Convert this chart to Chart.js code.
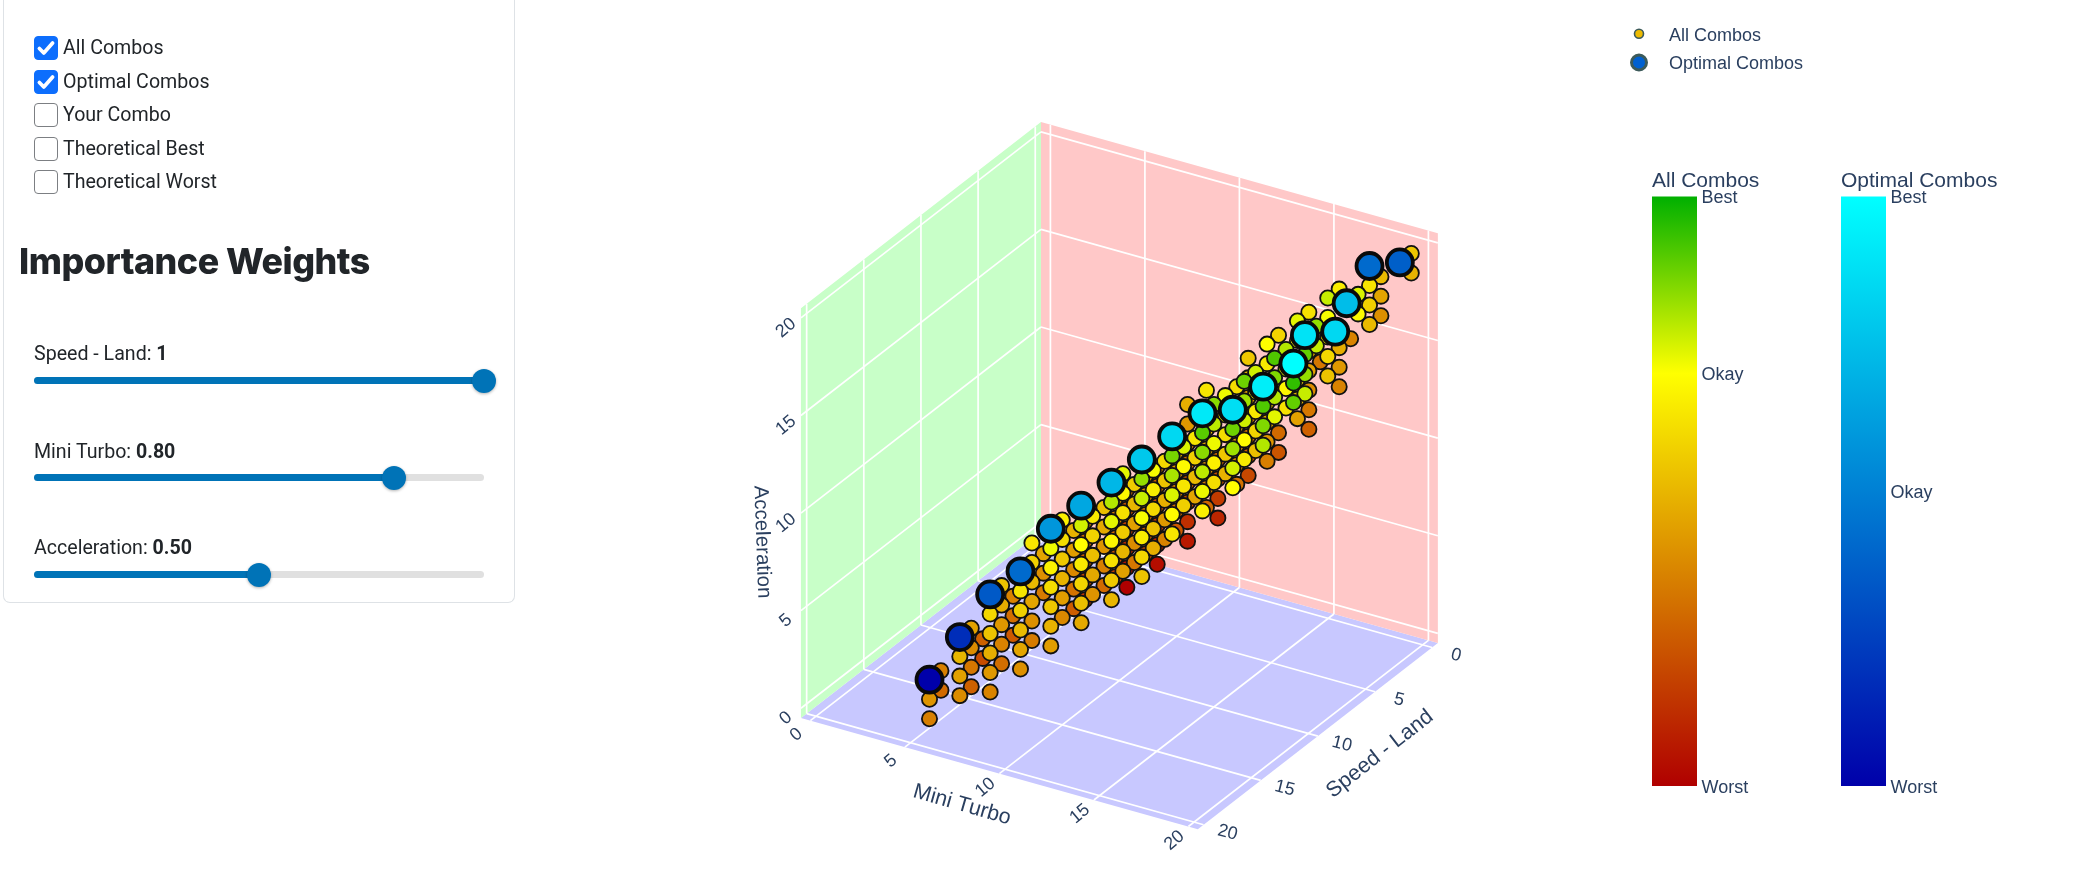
<!DOCTYPE html>
<html>
<head>
<meta charset="utf-8">
<title>Combos</title>
<script src="https://cdn.jsdelivr.net/npm/chart.js@4/dist/chart.umd.min.js"></script>
<style>
  html, body { margin: 0; padding: 0; background: #fff; overflow: hidden; }
  #page { position: relative; width: 2100px; height: 875px; font-family: Roboto, sans-serif; color: #212529; }
  #chart { position: absolute; left: 0; top: 0; }
  .check { position: absolute; left: 34px; font-size: 19.6px; line-height: 24px; display: flex; align-items: center; }
  .check input { appearance: none; width: 24px; height: 24px; margin: 0 5px 0 0; border: 1.5px solid #7c7f83; border-radius: 4px; box-sizing: border-box; background: #fff; }
  .check input:checked { background: #0d6efd url("data:image/svg+xml,%3csvg xmlns='http://www.w3.org/2000/svg' viewBox='0 0 20 20'%3e%3cpath fill='none' stroke='%23fff' stroke-linecap='round' stroke-linejoin='round' stroke-width='3.4' d='m4 10.5 4 4 8-9'/%3e%3c/svg%3e") center/contain no-repeat; border-color: #0d6efd; }
  h2 { position: absolute; left: 19px; top: 239px; margin: 0; font-family: Inter, sans-serif; font-size: 35.8px; line-height: 44px; font-weight: 800; letter-spacing: -0.5px; white-space: nowrap; color: #212529; }
  .weight { position: absolute; left: 34px; font-size: 19.6px; line-height: 24px; white-space: nowrap; }
  .track { position: absolute; left: 34px; width: 450px; height: 7px; border-radius: 4px; background: #e0e0e0; }
  .fill { position: absolute; left: 0; top: 0; height: 7px; border-radius: 4px; background: #0073b7; }
  .thumb { position: absolute; top: -8.5px; width: 24px; height: 24px; margin-left: -12px; border-radius: 50%; background: #0073b7; box-shadow: 0 1px 3px rgba(0,0,0,.3); }
</style>
</head>
<body>
<div id="page">
  <canvas id="chart" width="2100" height="875"></canvas>
  <div style="position:absolute;left:3px;top:0;width:512px;height:603px;border:1px solid #dee2e6;border-top:0;border-radius:0 0 7px 7px;box-sizing:border-box"></div>
  <label class="check" style="top:36px"><input type="checkbox" checked>All Combos</label>
  <label class="check" style="top:70px"><input type="checkbox" checked>Optimal Combos</label>
  <label class="check" style="top:103px"><input type="checkbox">Your Combo</label>
  <label class="check" style="top:137px"><input type="checkbox">Theoretical Best</label>
  <label class="check" style="top:170px"><input type="checkbox">Theoretical Worst</label>
  <h2>Importance Weights</h2>
  <div class="weight" style="top:341.5px">Speed - Land: <b>1</b></div>
  <div class="track" style="top:377px"><div class="fill" style="width:450px"></div><div class="thumb" style="left:450px"></div></div>
  <div class="weight" style="top:439.5px">Mini Turbo: <b>0.80</b></div>
  <div class="track" style="top:474px"><div class="fill" style="width:360px"></div><div class="thumb" style="left:360px"></div></div>
  <div class="weight" style="top:535.5px">Acceleration: <b>0.50</b></div>
  <div class="track" style="top:571px"><div class="fill" style="width:225px"></div><div class="thumb" style="left:225px"></div></div>
</div>
<script>
// All Combos, one line per (mini turbo, speed) column
const allMini = [
  6, 6, 6,
  6, 6,
  7, 7, 7, 7,
  7, 7, 7, 7,
  7, 7,
  8, 8, 8, 8, 8, 8,
  8, 8, 8, 8, 8,
  8, 8, 8,
  9, 9, 9, 9, 9, 9,
  9, 9, 9, 9, 9, 9,
  9, 9, 9,
  10, 10, 10, 10, 10, 10, 10,
  10, 10, 10, 10, 10, 10,
  10, 10, 10, 10, 10,
  10, 10, 10, 10, 10,
  11, 11, 11, 11, 11, 11, 11,
  11, 11, 11, 11, 11,
  11, 11, 11, 11, 11,
  11, 11, 11, 11, 11,
  11, 11, 11, 11, 11, 11,
  12, 12, 12, 12, 12, 12, 12,
  12, 12, 12, 12, 12, 12,
  12, 12, 12, 12, 12,
  12, 12, 12, 12, 12,
  12, 12, 12, 12, 12, 12,
  13, 13, 13, 13, 13, 13, 13,
  13, 13, 13, 13, 13,
  13, 13, 13, 13, 13,
  13, 13, 13, 13, 13,
  13, 13, 13, 13, 13, 13, 13, 13,
  14, 14, 14, 14, 14, 14,
  14, 14, 14, 14,
  14, 14, 14, 14,
  14, 14, 14, 14, 14, 14, 14,
  14, 14, 14, 14,
  15, 15, 15, 15, 15, 15,
  15, 15, 15, 15, 15,
  15, 15, 15, 15, 15,
  15, 15, 15, 15, 15, 15,
  15, 15, 15, 15, 15, 15, 15,
  16, 16, 16, 16, 16,
  16, 16, 16, 16, 16,
  16, 16, 16, 16, 16,
  16, 16, 16, 16, 16, 16, 16,
  16, 16, 16,
  17, 17, 17, 17,
  17, 17, 17, 17,
  17, 17, 17, 17,
  17, 17, 17, 17, 17, 17,
  17, 17, 17, 17, 17, 17, 17,
  17,
  18, 18, 18,
  18, 18, 18, 18,
  18, 18,
  18, 18, 18, 18, 18,
  18, 18, 18, 18,
  18,
  19,
  19,
  19, 19,
  19, 19, 19, 19,
  19, 19, 19,
  20,
  20, 20
];
const allSpeed = [
  20, 20, 20,
  19, 19,
  19, 19, 19, 19,
  18, 18, 18, 18,
  17, 17,
  18, 18, 18, 18, 18, 18,
  17, 17, 17, 17, 17,
  16, 16, 16,
  17, 17, 17, 17, 17, 17,
  16, 16, 16, 16, 16, 16,
  15, 15, 15,
  16, 16, 16, 16, 16, 16, 16,
  15, 15, 15, 15, 15, 15,
  14, 14, 14, 14, 14,
  13, 13, 13, 13, 13,
  15, 15, 15, 15, 15, 15, 15,
  14, 14, 14, 14, 14,
  13, 13, 13, 13, 13,
  12, 12, 12, 12, 12,
  11, 11, 11, 11, 11, 11,
  14, 14, 14, 14, 14, 14, 14,
  13, 13, 13, 13, 13, 13,
  12, 12, 12, 12, 12,
  11, 11, 11, 11, 11,
  10, 10, 10, 10, 10, 10,
  13, 13, 13, 13, 13, 13, 13,
  12, 12, 12, 12, 12,
  11, 11, 11, 11, 11,
  10, 10, 10, 10, 10,
  9, 9, 9, 9, 9, 9, 9, 9,
  12, 12, 12, 12, 12, 12,
  11, 11, 11, 11,
  10, 10, 10, 10,
  9, 9, 9, 9, 9, 9, 9,
  8, 8, 8, 8,
  11, 11, 11, 11, 11, 11,
  10, 10, 10, 10, 10,
  9, 9, 9, 9, 9,
  8, 8, 8, 8, 8, 8,
  7, 7, 7, 7, 7, 7, 7,
  10, 10, 10, 10, 10,
  9, 9, 9, 9, 9,
  8, 8, 8, 8, 8,
  7, 7, 7, 7, 7, 7, 7,
  6, 6, 6,
  9, 9, 9, 9,
  8, 8, 8, 8,
  7, 7, 7, 7,
  6, 6, 6, 6, 6, 6,
  5, 5, 5, 5, 5, 5, 5,
  4,
  8, 8, 8,
  7, 7, 7, 7,
  6, 6,
  5, 5, 5, 5, 5,
  4, 4, 4, 4,
  3,
  6,
  5,
  4, 4,
  3, 3, 3, 3,
  2, 2, 2,
  2,
  1, 1
];
const allAccel = [
  1, 2, 3,
  2, 3,
  2, 3, 4, 5,
  2, 3, 4, 5,
  3, 4,
  2, 3, 4, 5, 6, 7,
  3, 4, 5, 6, 7,
  4, 5, 6,
  3, 4, 5, 6, 7, 8,
  4, 5, 6, 7, 8, 9,
  6, 7, 8,
  4, 5, 6, 7, 8, 9, 10,
  5, 6, 7, 8, 9, 10,
  5, 6, 7, 8, 9,
  5, 6, 7, 8, 9,
  5, 6, 7, 8, 9, 10, 11,
  6, 7, 8, 9, 10,
  6, 7, 8, 9, 10,
  6, 7, 8, 9, 10,
  5, 6, 7, 8, 9, 10,
  6, 7, 8, 9, 10, 11, 12,
  7, 8, 9, 10, 11, 12,
  7, 8, 9, 10, 11,
  7, 8, 9, 10, 11,
  6, 7, 8, 9, 10, 11,
  7, 8, 9, 10, 11, 12, 13,
  8, 9, 10, 11, 12,
  8, 9, 10, 11, 12,
  8, 9, 10, 11, 12,
  7, 8, 9, 10, 11, 12, 13, 14,
  9, 10, 11, 12, 13, 14,
  10, 11, 12, 13,
  10, 11, 12, 13,
  9, 10, 11, 12, 13, 14, 15,
  8, 9, 10, 11,
  10, 11, 12, 13, 14, 15,
  11, 12, 13, 14, 15,
  11, 12, 13, 14, 15,
  10, 11, 12, 13, 14, 15,
  10, 11, 12, 13, 14, 15, 16,
  11, 12, 13, 14, 15,
  12, 13, 14, 15, 16,
  12, 13, 14, 15, 16,
  11, 12, 13, 14, 15, 16, 17,
  11, 12, 17,
  13, 14, 15, 16,
  14, 15, 16, 17,
  14, 15, 16, 17,
  13, 14, 15, 16, 17, 18,
  12, 13, 14, 15, 16, 17, 18,
  15,
  15, 16, 17,
  15, 16, 17, 18,
  17, 18,
  15, 16, 17, 18, 19,
  14, 15, 16, 19,
  16,
  18,
  19,
  18, 19,
  17, 18, 19, 20,
  17, 18, 19,
  20,
  19, 20
];
const allScore = [
  25.3, 25.8, 26.3,
  24.8, 25.3,
  25.6, 26.1, 26.6, 27.1,
  24.6, 25.1, 25.6, 26.1,
  24.1, 24.6,
  25.4, 25.9, 26.4, 26.9, 27.4, 27.9,
  24.9, 25.4, 25.9, 26.4, 26.9,
  24.4, 24.9, 25.4,
  25.7, 26.2, 26.7, 27.2, 27.7, 28.2,
  25.2, 25.7, 26.2, 26.7, 27.2, 27.7,
  25.2, 25.7, 26.2,
  26, 26.5, 27, 27.5, 28, 28.5, 29,
  25.5, 26, 26.5, 27, 27.5, 28,
  24.5, 25, 25.5, 26, 26.5,
  23.5, 24, 24.5, 25, 25.5,
  26.3, 26.8, 27.3, 27.8, 28.3, 28.8, 29.3,
  25.8, 26.3, 26.8, 27.3, 27.8,
  24.8, 25.3, 25.8, 26.3, 26.8,
  23.8, 24.3, 24.8, 25.3, 25.8,
  22.3, 22.8, 23.3, 23.8, 24.3, 24.8,
  26.6, 27.1, 27.6, 28.1, 28.6, 29.1, 29.6,
  26.1, 26.6, 27.1, 27.6, 28.1, 28.6,
  25.1, 25.6, 26.1, 26.6, 27.1,
  24.1, 24.6, 25.1, 25.6, 26.1,
  22.6, 23.1, 23.6, 24.1, 24.6, 25.1,
  26.9, 27.4, 27.9, 28.4, 28.9, 29.4, 29.9,
  26.4, 26.9, 27.4, 27.9, 28.4,
  25.4, 25.9, 26.4, 26.9, 27.4,
  24.4, 24.9, 25.4, 25.9, 26.4,
  22.9, 23.4, 23.9, 24.4, 24.9, 25.4, 25.9, 26.4,
  27.7, 28.2, 28.7, 29.2, 29.7, 30.2,
  27.2, 27.7, 28.2, 28.7,
  26.2, 26.7, 27.2, 27.7,
  24.7, 25.2, 25.7, 26.2, 26.7, 27.2, 27.7,
  23.2, 23.7, 24.2, 24.7,
  28, 28.5, 29, 29.5, 30, 30.5,
  27.5, 28, 28.5, 29, 29.5,
  26.5, 27, 27.5, 28, 28.5,
  25, 25.5, 26, 26.5, 27, 27.5,
  24, 24.5, 25, 25.5, 26, 26.5, 27,
  28.3, 28.8, 29.3, 29.8, 30.3,
  27.8, 28.3, 28.8, 29.3, 29.8,
  26.8, 27.3, 27.8, 28.3, 28.8,
  25.3, 25.8, 26.3, 26.8, 27.3, 27.8, 28.3,
  24.3, 24.8, 27.3,
  29.1, 29.6, 30.1, 30.6,
  28.6, 29.1, 29.6, 30.1,
  27.6, 28.1, 28.6, 29.1,
  26.1, 26.6, 27.1, 27.6, 28.1, 28.6,
  24.6, 25.1, 25.6, 26.1, 26.6, 27.1, 27.6,
  25.1,
  29.9, 30.4, 30.9,
  28.9, 29.4, 29.9, 30.4,
  28.9, 29.4,
  26.9, 27.4, 27.9, 28.4, 28.9,
  25.4, 25.9, 26.4, 27.9,
  25.4,
  30.2,
  29.7,
  28.2, 28.7,
  26.7, 27.2, 27.7, 28.2,
  25.7, 26.2, 26.7,
  28,
  26.5, 27
];

// Optimal Combos
const optMini = [6, 7, 8, 9, 10, 11, 12, 13, 14, 15, 16, 17, 18, 18, 19, 19, 19, 20];
const optSpeed = [20, 19, 18, 17, 16, 15, 14, 13, 12, 11, 10, 9, 8, 7, 6, 5, 3, 2];
const optAccel = [3, 5, 7, 8, 10, 11, 12, 13, 14, 15, 15, 16, 17, 18, 18, 19, 20, 20];
const optScore = [26.3, 27.1, 27.9, 28.2, 29, 29.3, 29.6, 29.9, 30.2, 30.5, 30.3, 30.6, 30.9, 30.4, 30.2, 29.7, 28.2, 28];

const tickValues = [0, 5, 10, 15, 20];
const colorbarLabels = ['Worst', 'Okay', 'Best'];

const AXIS_MIN = -0.5;
const AXIS_MAX = 20.5;

// the scene is an orthographic view, so one screen step per axis unit is enough
const project = (mini, speed, accel) => ({
  x: 1044.7 + 18.9 * mini - 11.43 * speed,
  y: 529.3 + 5.29 * mini + 8.86 * speed - 19.52 * accel
});

const depth = i => 11.43 * allMini[i] + 18.9 * allSpeed[i] + 11.68 * allAccel[i];

const allStops = [[0, [176, 0, 0]], [0.7, [255, 255, 0]], [1, [0, 176, 0]]];
const optStops = [[0, [0, 0, 170]], [0.5, [0, 128, 212]], [1, [0, 255, 255]]];

const rgb = c => `rgb(${c[0]},${c[1]},${c[2]})`;

const colorAt = (stops, frac) => {
  for (let i = 1; i < stops.length; i++) {
    if (frac <= stops[i][0]) {
      const [p0, c0] = stops[i - 1];
      const [p1, c1] = stops[i];
      const t = (frac - p0) / (p1 - p0);
      return rgb(c0.map((v, k) => Math.round(v + (c1[k] - v) * t)));
    }
  }
  return rgb(stops[stops.length - 1][1]);
};

const allColor = score => colorAt(allStops, Math.max(0, (score - 22.3) / 8.6));
const optColor = score => colorAt(optStops, Math.max(0, (score - 26.3) / 4.6));

const wall = (corners, color) => ({
  data: corners.map(c => project(...c)),
  showLine: true,
  fill: 'shape',
  backgroundColor: color,
  borderWidth: 0,
  pointRadius: 0,
  order: 4
});

const gridLine = (from, to) => ({
  data: [project(...from), project(...to)],
  showLine: true,
  fill: false,
  borderColor: '#fff',
  borderWidth: 1.7,
  pointRadius: 0,
  order: 3
});

const gridLines = [];
tickValues.forEach(t => {
  gridLines.push(gridLine([t, AXIS_MIN, AXIS_MIN], [t, AXIS_MIN, AXIS_MAX]));
  gridLines.push(gridLine([AXIS_MIN, AXIS_MIN, t], [AXIS_MAX, AXIS_MIN, t]));
  gridLines.push(gridLine([AXIS_MIN, t, AXIS_MIN], [AXIS_MIN, t, AXIS_MAX]));
  gridLines.push(gridLine([AXIS_MIN, AXIS_MIN, t], [AXIS_MIN, AXIS_MAX, t]));
  gridLines.push(gridLine([t, AXIS_MIN, AXIS_MIN], [t, AXIS_MAX, AXIS_MIN]));
  gridLines.push(gridLine([AXIS_MIN, t, AXIS_MIN], [AXIS_MAX, t, AXIS_MIN]));
});

// back to front, so nearer markers cover the ones behind
const allOrder = allMini.map((_, i) => i).sort((a, b) => depth(a) - depth(b));

const SLATE = '#2a3f5f';

const drawText = (ctx, text, x, y, size, angle, align) => {
  ctx.save();
  ctx.translate(x, y);
  ctx.rotate(angle * Math.PI / 180);
  ctx.font = `${size}px "Liberation Sans"`;
  ctx.fillStyle = SLATE;
  ctx.textAlign = align || 'center';
  ctx.textBaseline = 'middle';
  ctx.fillText(text, 0, 0);
  ctx.restore();
};

const sceneText = {
  id: 'sceneText',
  afterDatasetsDraw(chart) {
    const { ctx, scales: { x, y } } = chart;
    tickValues.forEach(t => {
      const mini = project(t, AXIS_MAX, AXIS_MIN);
      drawText(ctx, String(t), x.getPixelForValue(mini.x) - 14, y.getPixelForValue(mini.y) + 14, 18, -40);
      const speed = project(AXIS_MAX, t, AXIS_MIN);
      drawText(ctx, String(t), x.getPixelForValue(speed.x) + 24, y.getPixelForValue(speed.y) + 8, 18, 14);
      const accel = project(AXIS_MIN, AXIS_MAX, t);
      drawText(ctx, String(t), x.getPixelForValue(accel.x) - 15, y.getPixelForValue(accel.y) + 10, 18, -40);
    });
    drawText(ctx, 'Mini Turbo', 962, 805, 21.5, 16);
    drawText(ctx, 'Speed - Land', 1380, 754, 21.5, -38);
    drawText(ctx, 'Acceleration', 762, 542, 20.5, 88);
  }
};

const colorbars = {
  id: 'colorbars',
  afterDraw(chart) {
    const { ctx } = chart;
    const bars = [
      { left: 1652, title: 'All Combos', stops: allStops },
      { left: 1841, title: 'Optimal Combos', stops: optStops }
    ];
    bars.forEach(bar => {
      const top = 196.5;
      const bottom = 786;
      const grad = ctx.createLinearGradient(0, bottom, 0, top);
      bar.stops.forEach(s => grad.addColorStop(s[0], rgb(s[1])));
      ctx.fillStyle = grad;
      ctx.fillRect(bar.left, top, 45, bottom - top);
      drawText(ctx, bar.title, bar.left, 181, 21, 0, 'left');
      const okayFrac = bar.stops[1][0];
      const labelY = [788.5, bottom - (bottom - top) * okayFrac + 1.5, 198.5];
      colorbarLabels.forEach((label, i) => {
        drawText(ctx, label, bar.left + 49.5, labelY[i], 18, 0, 'left');
      });
    });

    // legend
    ctx.save();
    ctx.beginPath();
    ctx.arc(1639, 33.7, 4.5, 0, Math.PI * 2);
    ctx.fillStyle = '#eebb00';
    ctx.fill();
    ctx.lineWidth = 1.6;
    ctx.strokeStyle = '#3c5a5a';
    ctx.stroke();
    ctx.beginPath();
    ctx.arc(1639, 62.5, 7.5, 0, Math.PI * 2);
    ctx.fillStyle = '#0060d0';
    ctx.fill();
    ctx.lineWidth = 3;
    ctx.stroke();
    ctx.restore();
    drawText(ctx, 'All Combos', 1669, 36, 18, 0, 'left');
    drawText(ctx, 'Optimal Combos', 1669, 64, 18, 0, 'left');
  }
};

new Chart(document.getElementById('chart'), {
  type: 'scatter',
  data: {
    datasets: [
      {
        label: 'Optimal Combos',
        data: optMini.map((m, i) => project(m, optSpeed[i], optAccel[i])),
        pointRadius: 13,
        pointBorderWidth: 3.8,
        pointBorderColor: '#0a0a0a',
        pointBackgroundColor: optScore.map(optColor),
        order: 0
      },
      {
        label: 'All Combos',
        data: allOrder.map(i => project(allMini[i], allSpeed[i], allAccel[i])),
        pointRadius: 7.6,
        pointBorderWidth: 1.8,
        pointBorderColor: '#111',
        pointBackgroundColor: allOrder.map(i => allColor(allScore[i])),
        order: 1
      },
      ...gridLines,
      wall([[AXIS_MIN, AXIS_MIN, AXIS_MIN], [AXIS_MAX, AXIS_MIN, AXIS_MIN], [AXIS_MAX, AXIS_MIN, AXIS_MAX], [AXIS_MIN, AXIS_MIN, AXIS_MAX], [AXIS_MIN, AXIS_MIN, AXIS_MIN]], 'rgb(255,200,200)'),
      wall([[AXIS_MIN, AXIS_MIN, AXIS_MIN], [AXIS_MIN, AXIS_MAX, AXIS_MIN], [AXIS_MIN, AXIS_MAX, AXIS_MAX], [AXIS_MIN, AXIS_MIN, AXIS_MAX], [AXIS_MIN, AXIS_MIN, AXIS_MIN]], 'rgb(200,255,200)'),
      wall([[AXIS_MIN, AXIS_MIN, AXIS_MIN], [AXIS_MAX, AXIS_MIN, AXIS_MIN], [AXIS_MAX, AXIS_MAX, AXIS_MIN], [AXIS_MIN, AXIS_MAX, AXIS_MIN], [AXIS_MIN, AXIS_MIN, AXIS_MIN]], 'rgb(200,200,255)')
    ]
  },
  options: {
    responsive: false,
    animation: false,
    layout: { padding: 0, autoPadding: false },
    scales: {
      x: { type: 'linear', display: false, min: 0, max: 2100 },
      y: { type: 'linear', display: false, min: 0, max: 875, reverse: true }
    },
    plugins: {
      legend: { display: false },
      tooltip: { enabled: false }
    }
  },
  plugins: [sceneText, colorbars]
});
</script>
</body>
</html>
